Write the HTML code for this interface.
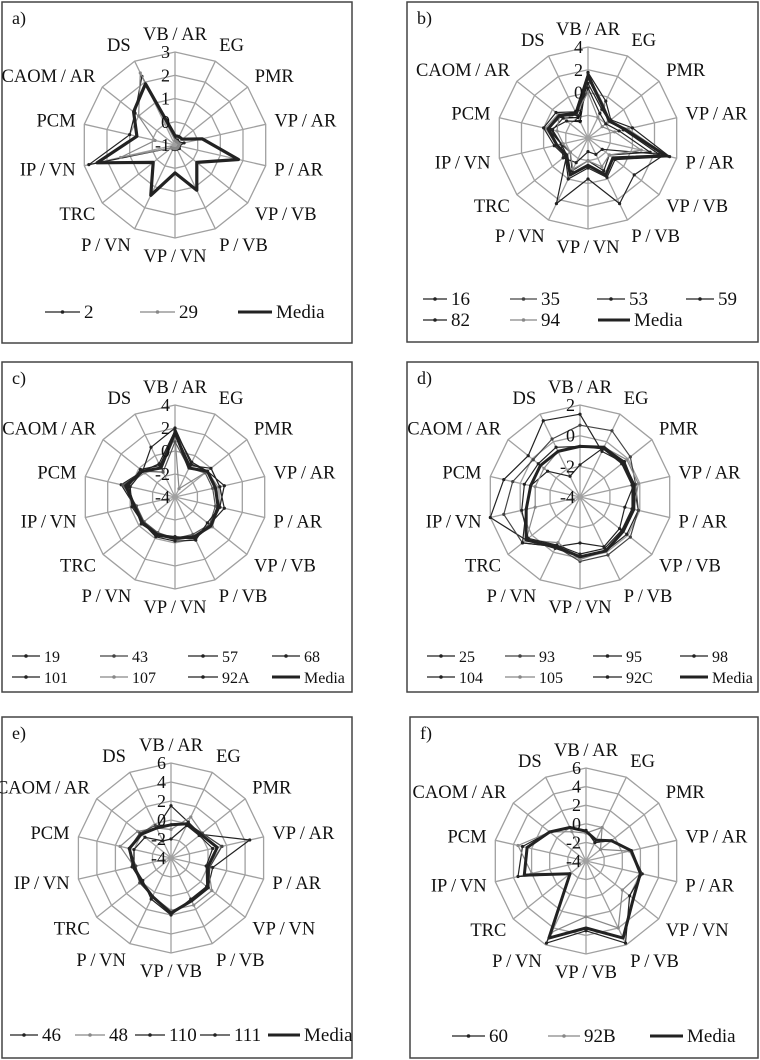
<!DOCTYPE html>
<html><head><meta charset="utf-8">
<style>
html,body{margin:0;padding:0;background:#fff;}
svg{display:block;}
text{font-family:"Liberation Serif",serif;fill:#111;}
</style></head>
<body>
<svg id="s" width="760" height="1060" viewBox="0 0 760 1060" xmlns="http://www.w3.org/2000/svg"></svg>
<script>
const NS="http://www.w3.org/2000/svg";
const S=document.getElementById('s');
function el(t,a,txt){const e=document.createElementNS(NS,t);for(const k in a)e.setAttribute(k,a[k]);if(txt!==undefined)e.textContent=txt;S.appendChild(e);return e;}
const L1=["VB/AR","EG","PMR","VP/AR","P/AR","VP/VB","P/VB","VP/VN","P/VN","TRC","IP/VN","PCM","CAOM/AR","DS"];
const L2=["VB/AR","EG","PMR","VP/AR","P/AR","VP/VN","P/VB","VP/VB","P/VN","TRC","IP/VN","PCM","CAOM/AR","DS"];
function fmt(s){return s.replace("/","\u2009/\u2009");}
function pt(cx,cy,r,i,f){const a=i*2*Math.PI/14;return [cx+r*f*Math.sin(a),cy-r*f*Math.cos(a)];}
function panel(p){
  el('rect',{x:p.box[0],y:p.box[1],width:p.box[2],height:p.box[3],fill:'#fff',stroke:'#444','stroke-width':1.5});
  el('text',{x:p.box[0]+10,y:p.box[1]+22,'font-size':18},p.tag);
  const {cx,cy,r}=p;
  for(let k=1;k<=p.rings;k++){
    let d='';for(let i=0;i<14;i++){const q=pt(cx,cy,r,i,k/p.rings);d+=(i?'L':'M')+q[0].toFixed(1)+' '+q[1].toFixed(1);}
    el('path',{d:d+'Z',fill:'none',stroke:'#a0a0a0','stroke-width':1.3});
  }
  for(let i=0;i<14;i++){const q=pt(cx,cy,r,i,1);el('line',{x1:cx,y1:cy,x2:q[0],y2:q[1],stroke:'#a0a0a0','stroke-width':1.3});}
  p.series.forEach(s=>{
    let d='';s.v.forEach((f,i)=>{const q=pt(cx,cy,r,i,f);d+=(i?'L':'M')+q[0].toFixed(1)+' '+q[1].toFixed(1);});
    el('path',{d:d+'Z',fill:'none',stroke:s.c||'#222','stroke-width':s.w||1.2,'stroke-linejoin':'round'});
    if(!s.w||s.w<2) s.v.forEach((f,i)=>{const q=pt(cx,cy,r,i,f);el('circle',{cx:q[0],cy:q[1],r:1.6,fill:s.c||'#222'});});
  });
  p.ticks.forEach((t,k)=>{const y=cy-r*(1-k/p.rings)+6;el('text',{x:cx-5,y:y,'font-size':18,'text-anchor':'end'},t);});
  p.labels.forEach((l,i)=>{
    const a=i*2*Math.PI/14,s=Math.sin(a),c=Math.cos(a);
    const x=cx+(r+9)*s,y=cy-(r+10)*c;
    const anc=s>0.15?'start':(s<-0.15?'end':'middle');
    el('text',{x:x.toFixed(1),y:(y+6-c*8).toFixed(1),'font-size':18.5,'text-anchor':anc},fmt(l));
  });
  p.legend.forEach(g=>{
    const media=g.t==='Media';
    el('line',{x1:g.x1,y1:g.y,x2:g.x2,y2:g.y,stroke:g.c||'#222','stroke-width':media?3:1.3});
    if(!media)el('circle',{cx:(g.x1+g.x2)/2,cy:g.y,r:1.8,fill:g.c||'#222'});
    el('text',{x:g.x2+4,y:g.y+6,'font-size':p.lfs||19},g.t);
  });
}
const G='#888';
panel({tag:'a)',box:[2,2,350,341],cx:175,cy:145,r:93,rings:4,ticks:['3','2','1','0','-1'],labels:L1,
series:[
 {v:[0.08,0.06,0.05,0.1,0.05,0.06,0.05,0.05,0.05,0.05,0.95,0.5,0.55,0.82]},
 {v:[0.05,0.04,0.04,0.05,0.04,0.04,0.04,0.04,0.04,0.05,0.6,0.22,0.5,0.86],c:G},
 {v:[0.1,0.1,0.1,0.3,0.7,0.3,0.54,0.3,0.6,0.3,0.86,0.42,0.57,0.73],w:3.2}
],
legend:[{x1:45,x2:80,y:312,t:'2'},{x1:140,x2:175,y:312,t:'29',c:G},{x1:238,x2:272,y:312,t:'Media'}]});
panel({tag:'b)',box:[407,2,351,340],cx:588,cy:138,r:91,rings:4,ticks:['4','2','0','-2'],labels:L1,
series:[
 {v:[0.6,0.35,0.3,0.42,0.85,0.65,0.8,0.45,0.8,0.3,0.3,0.45,0.38,0.28]},
 {v:[0.7,0.4,0.28,0.45,0.9,0.35,0.45,0.3,0.45,0.3,0.35,0.48,0.42,0.3],c:G},
 {v:[0.72,0.45,0.32,0.5,0.92,0.38,0.48,0.33,0.5,0.32,0.38,0.5,0.45,0.32]},
 {v:[0.55,0.3,0.25,0.35,0.7,0.3,0.4,0.25,0.4,0.25,0.3,0.4,0.35,0.25]},
 {v:[0.72,0.38,0.3,0.4,0.8,0.2,0.2,0.15,0.3,0.35,0.3,0.42,0.3,0.2]},
 {v:[0.5,0.25,0.2,0.3,0.6,0.3,0.35,0.25,0.38,0.25,0.28,0.35,0.4,0.3],c:G},
 {v:[0.68,0.38,0.3,0.42,0.88,0.35,0.45,0.3,0.45,0.3,0.35,0.45,0.4,0.3],w:3}
],
legend:[{x1:423,x2:447,y:299,t:'16'},{x1:510,x2:537,y:299,t:'35',c:'#444'},{x1:597,x2:625,y:299,t:'53'},{x1:686,x2:714,y:299,t:'59'},
{x1:423,x2:447,y:320,t:'82'},{x1:510,x2:537,y:320,t:'94',c:G},{x1:598,x2:630,y:320,t:'Media'}]});
panel({tag:'c)',box:[2,362,350,330],cx:175,cy:497,r:92,rings:4,ticks:['4','2','0','-2','-4'],labels:L1,lfs:16,
series:[
 {v:[0.75,0.4,0.45,0.45,0.5,0.5,0.5,0.45,0.47,0.45,0.45,0.6,0.45,0.6]},
 {v:[0.65,0.1,0.45,0.48,0.48,0.52,0.48,0.47,0.45,0.45,0.47,0.55,0.42,0.35],c:G},
 {v:[0.7,0.38,0.5,0.5,0.55,0.48,0.5,0.43,0.45,0.47,0.45,0.52,0.48,0.38]},
 {v:[0.6,0.35,0.42,0.42,0.45,0.48,0.45,0.45,0.43,0.43,0.43,0.58,0.45,0.3],c:'#555'},
 {v:[0.72,0.42,0.45,0.55,0.5,0.45,0.52,0.48,0.48,0.45,0.48,0.5,0.45,0.4]},
 {v:[0.7,0.35,0.45,0.45,0.48,0.5,0.48,0.45,0.45,0.45,0.45,0.55,0.45,0.35],w:3}
],
legend:[{x1:12,x2:40,y:656,t:'19'},{x1:100,x2:128,y:656,t:'43',c:'#444'},{x1:188,x2:218,y:656,t:'57'},{x1:272,x2:300,y:656,t:'68'},
{x1:12,x2:40,y:677,t:'101'},{x1:100,x2:128,y:677,t:'107',c:G},{x1:188,x2:218,y:677,t:'92A'},{x1:272,x2:300,y:677,t:'Media'}]});
panel({tag:'d)',box:[407,362,351,330],cx:580,cy:497,r:92,rings:3,ticks:['2','0','-2','-4'],labels:L1,lfs:16,
series:[
 {v:[0.9,0.55,0.6,0.6,0.65,0.65,0.65,0.65,0.62,0.75,1.0,0.85,0.72,0.92]},
 {v:[0.78,0.8,0.7,0.62,0.65,0.7,0.7,0.7,0.6,0.8,0.85,0.75,0.65,0.7],c:'#444'},
 {v:[0.35,0.6,0.62,0.6,0.5,0.55,0.6,0.5,0.6,0.8,0.6,0.55,0.45,0.25]},
 {v:[0.55,0.6,0.65,0.65,0.6,0.6,0.65,0.68,0.55,0.75,0.5,0.5,0.5,0.55],c:G},
 {v:[0.55,0.58,0.58,0.58,0.58,0.58,0.62,0.62,0.58,0.72,0.65,0.62,0.58,0.6]},
 {v:[0.55,0.6,0.6,0.6,0.6,0.6,0.65,0.65,0.6,0.75,0.6,0.55,0.55,0.55],w:3}
],
legend:[{x1:427,x2:455,y:656,t:'25'},{x1:505,x2:535,y:656,t:'93',c:'#444'},{x1:593,x2:622,y:656,t:'95'},{x1:680,x2:708,y:656,t:'98'},
{x1:427,x2:455,y:677,t:'104'},{x1:505,x2:535,y:677,t:'105',c:G},{x1:593,x2:622,y:677,t:'92C'},{x1:680,x2:708,y:677,t:'Media'}]});
panel({tag:'e)',box:[2,717,350,341],cx:171,cy:858,r:95,rings:5,ticks:['6','4','2','0','-2','-4'],labels:L2,
series:[
 {v:[0.55,0.42,0.4,0.85,0.45,0.5,0.5,0.58,0.45,0.4,0.42,0.45,0.4,0.35]},
 {v:[0.3,0.48,0.42,0.55,0.4,0.55,0.55,0.55,0.45,0.42,0.4,0.55,0.45,0.35],c:G},
 {v:[0.2,0.38,0.38,0.45,0.38,0.48,0.48,0.6,0.48,0.38,0.4,0.4,0.35,0.2]},
 {v:[0.35,0.4,0.42,0.55,0.42,0.5,0.5,0.58,0.45,0.42,0.38,0.45,0.42,0.38],c:'#444'},
 {v:[0.35,0.4,0.4,0.5,0.4,0.5,0.5,0.58,0.45,0.4,0.4,0.45,0.4,0.35],w:3}
],
legend:[{x1:10,x2:38,y:1035,t:'46'},{x1:75,x2:105,y:1035,t:'48',c:G},{x1:135,x2:165,y:1035,t:'110'},{x1:200,x2:230,y:1035,t:'111'},{x1:268,x2:300,y:1035,t:'Media'}]});
panel({tag:'f)',box:[410,717,348,341],cx:586,cy:861,r:93,rings:5,ticks:['6','4','2','0','-2','-4'],labels:L2,
series:[
 {v:[0.33,0.22,0.35,0.5,0.62,0.6,0.98,0.75,0.98,0.22,0.75,0.7,0.5,0.4]},
 {v:[0.3,0.4,0.2,0.48,0.6,0.5,0.8,0.6,0.85,0.22,0.6,0.75,0.5,0.35],c:G},
 {v:[0.32,0.25,0.35,0.5,0.6,0.65,0.92,0.72,0.92,0.22,0.68,0.65,0.5,0.4],w:3}
],
legend:[{x1:452,x2:485,y:1036,t:'60'},{x1:548,x2:580,y:1036,t:'92B',c:G},{x1:650,x2:683,y:1036,t:'Media'}]});
</script>
</body></html>
